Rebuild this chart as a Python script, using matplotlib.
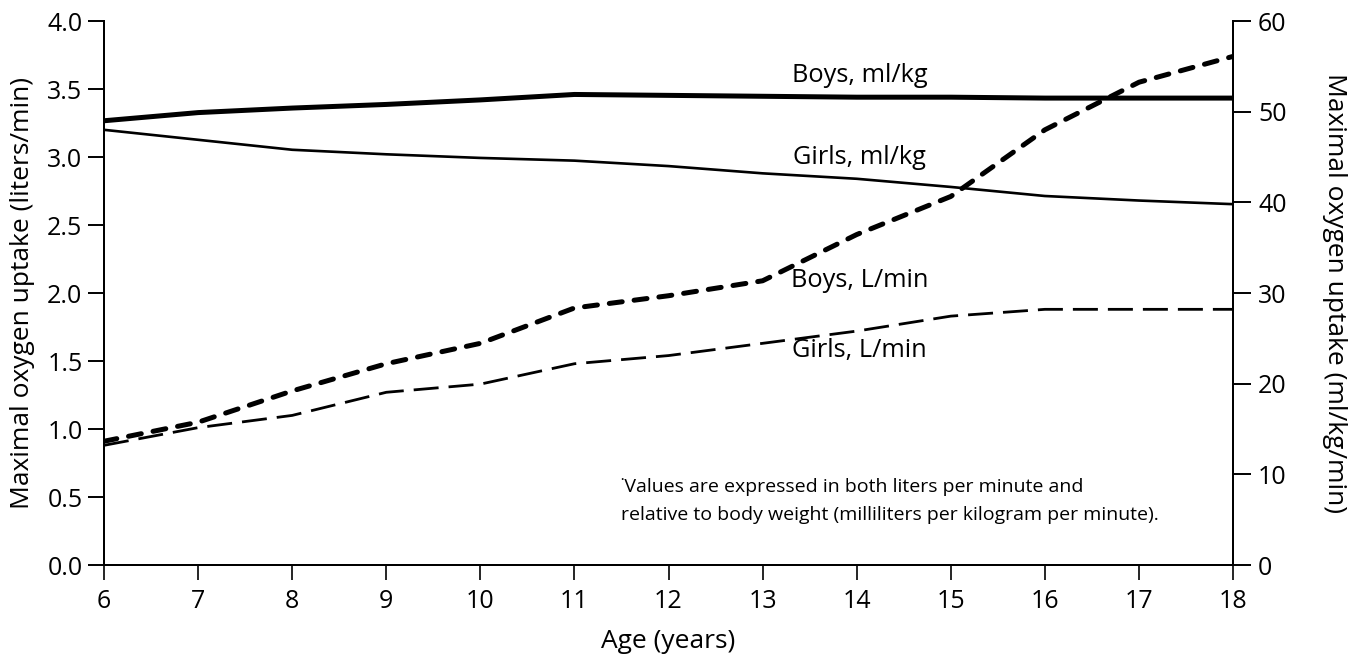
import matplotlib.pyplot as plt
import numpy as np

plt.rcParams['font.family'] = ['Open Sans', 'DejaVu Sans']

ages = [6, 7, 8, 9, 10, 11, 12, 13, 14, 15, 16, 17, 18]

# liters/min (left axis)
boys_lmin = [0.91, 1.05, 1.28, 1.48, 1.63, 1.89, 1.98, 2.09, 2.43, 2.71, 3.20, 3.55, 3.74]
girls_lmin = [0.88, 1.01, 1.10, 1.27, 1.33, 1.48, 1.54, 1.63, 1.72, 1.83, 1.88, 1.88, 1.88]

# ml/kg/min (right axis)
boys_mlkg = [49.0, 49.9, 50.4, 50.8, 51.3, 51.9, 51.8, 51.7, 51.6, 51.6, 51.5, 51.5, 51.5]
girls_mlkg = [48.0, 46.9, 45.8, 45.3, 44.9, 44.6, 44.0, 43.2, 42.6, 41.7, 40.7, 40.2, 39.8]

fig = plt.figure(figsize=(13.51, 6.55), dpi=100)
ax = fig.add_axes([0.077, 0.1374, 0.8357, 0.8305])
ax2 = ax.twinx()

ax.plot(ages, boys_lmin, color='black', lw=3.6, dashes=(2.6, 2.4), dash_capstyle='round')
ax.plot(ages, girls_lmin, color='black', lw=2.0, dashes=(9, 3.6))
ax2.plot(ages, boys_mlkg, color='black', lw=3.6, solid_capstyle='butt')
ax2.plot(ages, girls_mlkg, color='black', lw=1.9)

ax.set_xlim(6, 18)
ax.set_ylim(0, 4.0)
ax2.set_ylim(0, 60)
ax.set_xticks(ages)
yt = np.arange(0, 4.01, 0.5)
ax.set_yticks(yt)
ax.set_yticklabels([f'{v:.1f}' for v in yt])
ax2.set_yticks(range(0, 61, 10))

for a in (ax, ax2):
    a.spines['top'].set_visible(False)
    for s in a.spines.values():
        s.set_linewidth(1.4)
ax.tick_params(axis='y', length=11.5, width=1.4, labelsize=18, pad=4)
ax.tick_params(axis='x', length=11, width=1.2, labelsize=18, pad=6)
ax2.tick_params(axis='y', length=13, width=1.4, labelsize=18, pad=5)

ax.set_xlabel('Age (years)', fontsize=19)
ax.set_ylabel('Maximal oxygen uptake (liters/min)', fontsize=19)
ax2.set_ylabel('Maximal oxygen uptake (ml/kg/min)', fontsize=19, rotation=270)
ax.xaxis.set_label_coords(0.5, -0.14)
ax.xaxis.label.set_va('center')
ax.yaxis.set_label_coords(-0.0726, 0.5)
ax.yaxis.label.set_va('center')
ax2.yaxis.set_label_coords(1.09, 0.5)
ax2.yaxis.label.set_va('center')

ax.text(14.03, 3.60, 'Boys, ml/kg', fontsize=18.3, ha='center', va='center')
ax.text(14.03, 3.00, 'Girls, ml/kg', fontsize=18.3, ha='center', va='center')
ax.text(14.03, 2.09, 'Boys, L/min', fontsize=18.3, ha='center', va='center')
ax.text(14.03, 1.58, 'Girls, L/min', fontsize=18.3, ha='center', va='center')
ax.text(11.5, 0.57, '\u02d9Values are expressed in both liters per minute and', fontsize=14, ha='left', va='center')
ax.text(11.5, 0.37, 'relative to body weight (milliliters per kilogram per minute).', fontsize=14, ha='left', va='center')

fig.savefig('out.png', dpi=100)
